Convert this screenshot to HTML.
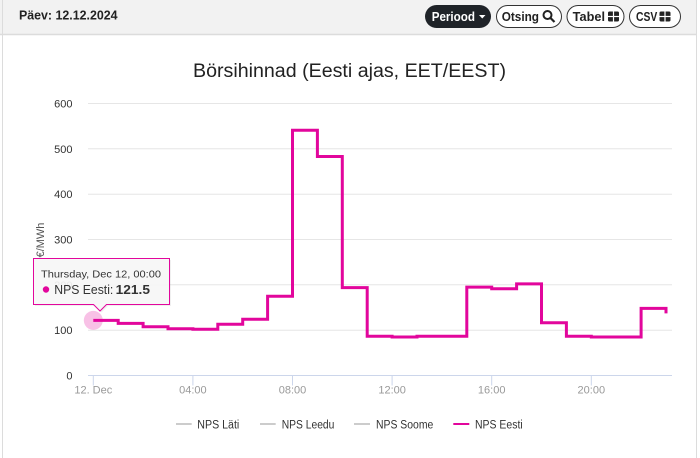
<!DOCTYPE html>
<html><head><meta charset="utf-8">
<style>
html,body{margin:0;padding:0;background:#fff;}
svg{display:block;}
text{font-family:"Liberation Sans","DejaVu Sans",sans-serif;}
</style></head>
<body>
<svg width="700" height="458" viewBox="0 0 700 458" xmlns="http://www.w3.org/2000/svg">
  <!-- page frame -->
  <rect x="0" y="0" width="700" height="458" fill="#fff"/>
  <rect x="0" y="0" width="697" height="34.5" fill="#f2f2f2"/>
  <line x1="0" y1="34.5" x2="697" y2="34.5" stroke="#dcdcdc" stroke-width="1.5"/>
  <line x1="2.5" y1="0" x2="2.5" y2="458" stroke="#dcdcdc" stroke-width="1"/>
  <line x1="696.5" y1="0" x2="696.5" y2="458" stroke="#dcdcdc" stroke-width="1"/>

  <!-- header -->
  <text x="19" y="19.5" font-size="12.5" font-weight="bold" fill="#222" textLength="98.5" lengthAdjust="spacingAndGlyphs">Päev: 12.12.2024</text>

  <rect x="425" y="5" width="66" height="23" rx="11.5" fill="#1f2328"/>
  <text x="431.7" y="21" font-size="12.5" font-weight="bold" fill="#fff" textLength="43.3" lengthAdjust="spacingAndGlyphs">Periood</text>
  <path d="M479 15 L485.5 15 L482.25 18.5 Z" fill="#fff"/>

  <rect x="496.5" y="5.5" width="65" height="22" rx="11" fill="#fff" stroke="#333" stroke-width="1"/>
  <text x="501.7" y="21" font-size="12.5" font-weight="bold" fill="#222" textLength="37.3" lengthAdjust="spacingAndGlyphs">Otsing</text>
  <circle cx="547.5" cy="15" r="4" fill="none" stroke="#222" stroke-width="2"/>
  <line x1="550.5" y1="18" x2="554.5" y2="22" stroke="#222" stroke-width="2.2"/>

  <rect x="567" y="5.5" width="57" height="22" rx="11" fill="#fff" stroke="#333" stroke-width="1"/>
  <text x="572.7" y="21" font-size="12.5" font-weight="bold" fill="#222" textLength="32.3" lengthAdjust="spacingAndGlyphs">Tabel</text>
  <rect x="608" y="11.5" width="11" height="10" rx="1.5" fill="#222"/>
  <line x1="608" y1="16.5" x2="619" y2="16.5" stroke="#fff" stroke-width="1.2"/>
  <line x1="613.5" y1="11.5" x2="613.5" y2="21.5" stroke="#fff" stroke-width="1.2"/>

  <rect x="629.5" y="5.5" width="51" height="22" rx="11" fill="#fff" stroke="#333" stroke-width="1"/>
  <text x="636" y="21" font-size="12.5" font-weight="bold" fill="#222" textLength="21.3" lengthAdjust="spacingAndGlyphs">CSV</text>
  <rect x="659.5" y="11.5" width="11" height="10" rx="1.5" fill="#222"/>
  <line x1="659.5" y1="16.5" x2="670.5" y2="16.5" stroke="#fff" stroke-width="1.2"/>
  <line x1="665" y1="11.5" x2="665" y2="21.5" stroke="#fff" stroke-width="1.2"/>

  <!-- title -->
  <text x="193" y="77" font-size="19" fill="#222" textLength="313" lengthAdjust="spacingAndGlyphs">Börsihinnad (Eesti ajas, EET/EEST)</text>

  <!-- grid -->
  <g stroke="#e6e6e6" stroke-width="1">
    <line x1="88" y1="103.5" x2="672" y2="103.5"/>
    <line x1="88" y1="148.8" x2="672" y2="148.8"/>
    <line x1="88" y1="194.2" x2="672" y2="194.2"/>
    <line x1="88" y1="239.5" x2="672" y2="239.5"/>
    <line x1="88" y1="284.8" x2="672" y2="284.8"/>
    <line x1="88" y1="330.2" x2="672" y2="330.2"/>
  </g>
  <line x1="88" y1="375.5" x2="672" y2="375.5" stroke="#ccd6eb" stroke-width="1"/>
  <g stroke="#ccd6eb" stroke-width="1">
    <line x1="93.3" y1="375.5" x2="93.3" y2="385.5"/>
    <line x1="192.9" y1="375.5" x2="192.9" y2="385.5"/>
    <line x1="292.5" y1="375.5" x2="292.5" y2="385.5"/>
    <line x1="392.1" y1="375.5" x2="392.1" y2="385.5"/>
    <line x1="491.7" y1="375.5" x2="491.7" y2="385.5"/>
    <line x1="591.3" y1="375.5" x2="591.3" y2="385.5"/>
  </g>

  <!-- y labels -->
  <g font-size="11" fill="#333" text-anchor="end">
    <text x="72.5" y="107.5">600</text>
    <text x="72.5" y="152.8">500</text>
    <text x="72.5" y="198.2">400</text>
    <text x="72.5" y="243.5">300</text>
    <text x="72.5" y="288.8">200</text>
    <text x="72.5" y="334.2">100</text>
    <text x="72.5" y="379.5">0</text>
  </g>
  <text transform="translate(44,240) rotate(-90)" font-size="11" fill="#555" text-anchor="middle">€/MWh</text>

  <!-- x labels -->
  <g font-size="11" fill="#999" text-anchor="middle">
    <text x="93.3" y="393.5">12. Dec</text>
    <text x="192.9" y="393.5">04:00</text>
    <text x="292.5" y="393.5">08:00</text>
    <text x="392.1" y="393.5">12:00</text>
    <text x="491.7" y="393.5">16:00</text>
    <text x="591.3" y="393.5">20:00</text>
  </g>

  <!-- series -->
  <path d="M93.3 320.4 H118.2 V323.4 H143.1 V326.7 H168 V328.8 H192.9 V329.3 H217.8 V324.3 H242.7 V319.3 H267.6 V296.2 H292.5 V130.3 H317.4 V156.5 H342.3 V287.6 H367.2 V336.3 H392.1 V337 H417 V336.3 H441.9 V336.3 H466.8 V287.1 H491.7 V288.7 H516.6 V283.9 H541.5 V322.7 H566.4 V336.3 H591.3 V337 H616.2 V337 H641.1 V308.4 H666 V313.4" fill="none" stroke="#e2069c" stroke-width="3" stroke-linejoin="miter"/>

  <!-- halo -->
  <circle cx="93.3" cy="320.4" r="9.5" fill="#e2069c" fill-opacity="0.25"/>

  <!-- tooltip -->
  <path d="M33.5 258.5 H169.5 V304.5 H106.5 L100 311 L93.5 304.5 H33.5 Z" fill="#000" fill-opacity="0.06" transform="translate(1.5,1.5)"/>
  <path d="M33.5 258.5 H169.5 V304.5 H106.5 L100 311 L93.5 304.5 H33.5 Z" fill="#f7f7f7" fill-opacity="0.92" stroke="#e2069c" stroke-width="1"/>
  <text x="41" y="277.5" font-size="10.5" fill="#333" textLength="120" lengthAdjust="spacingAndGlyphs">Thursday, Dec 12, 00:00</text>
  <circle cx="46" cy="289.5" r="3.2" fill="#e2069c"/>
  <text x="54.3" y="294" font-size="13" fill="#333" textLength="59" lengthAdjust="spacingAndGlyphs">NPS Eesti:</text>
  <text x="115.7" y="294" font-size="13" font-weight="bold" fill="#333" textLength="34.3" lengthAdjust="spacingAndGlyphs">121.5</text>

  <!-- legend -->
  <g stroke-width="2">
    <line x1="176" y1="424" x2="191.7" y2="424" stroke="#cccccc"/>
    <line x1="260" y1="424" x2="275.7" y2="424" stroke="#cccccc"/>
    <line x1="354" y1="424" x2="370" y2="424" stroke="#cccccc"/>
    <line x1="453.3" y1="424" x2="469.3" y2="424" stroke="#e2069c"/>
  </g>
  <g font-size="11.5" fill="#333">
    <text x="197.3" y="428.3" textLength="42" lengthAdjust="spacingAndGlyphs">NPS Läti</text>
    <text x="281.7" y="428.3" textLength="52.7" lengthAdjust="spacingAndGlyphs">NPS Leedu</text>
    <text x="376" y="428.3" textLength="57.3" lengthAdjust="spacingAndGlyphs">NPS Soome</text>
    <text x="475" y="428.3" textLength="47.7" lengthAdjust="spacingAndGlyphs">NPS Eesti</text>
  </g>
</svg>
</body></html>
